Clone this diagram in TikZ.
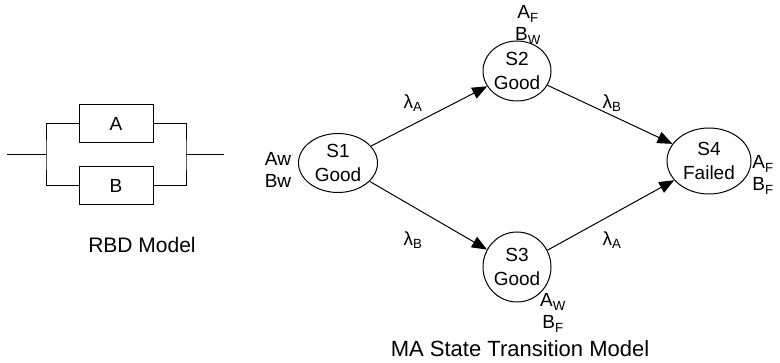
\documentclass[tikz,border=0pt]{standalone}
\usepackage{fontspec}
\setmainfont{Liberation Sans}
\usetikzlibrary{shapes.geometric,arrows.meta}
\begin{document}
\begin{tikzpicture}[x=1pt,y=-1pt,
  every node/.style={font=\fontsize{19}{22}\selectfont, inner sep=0pt},
  state/.style={draw, ellipse, line width=1pt, align=center, font=\fontsize{19}{24}\selectfont},
  blk/.style={draw, line width=1pt, minimum width=74pt, minimum height=38pt},
  wire/.style={line width=1pt},
  trans/.style={line width=1pt, -{Triangle[length=15pt,width=12pt]}},
  lbl/.style={align=center},
  caption/.style={font=\fontsize{21}{24}\selectfont}]
\useasboundingbox (0,0) rectangle (780,363);
% RBD
\node[blk] (a) at (116,124) {A};
\node[blk] (b) at (116,186) {B};
\coordinate (l0) at (7,155);
\coordinate (lj) at (46,155);
\coordinate (rj) at (186,155);
\coordinate (r0) at (224,155);
\draw[wire] (l0) -- (lj);
\draw[wire] (a.west) -| (lj) |- (b.west);
\draw[wire] (a.east) -| (rj) |- (b.east);
\draw[wire] (rj) -- (r0);
\node[caption] (rbd) at (142,245) {RBD Model};
% states
\node[state, minimum width=79pt, minimum height=59pt] (s1) at (338,163) {S1\\Good};
\node[state, minimum width=68pt, minimum height=60pt] (s2) at (517,71) {S2\\Good};
\node[state, minimum width=68pt, minimum height=70pt] (s3) at (517,267) {S3\\Good};
\node[state, minimum width=84pt, minimum height=66pt] (s4) at (709,161) {S4\\Failed};
% transitions
\draw[trans] (s1) -- (s2);
\draw[trans] (s1) -- (s3);
\draw[trans] (s2) -- (s4);
\draw[trans] (s3) -- (s4);
\node (l1) at (413,103) {λ\textsubscript{A}};
\node (l2) at (413,240) {λ\textsubscript{B}};
\node (l3) at (612,103) {λ\textsubscript{B}};
\node (l4) at (612,240) {λ\textsubscript{A}};
% state labels
\node[lbl] (t1) at (278,170) {Aw\\Bw};
\node[lbl] (t2) at (528,25) {A\textsubscript{F}\\B\textsubscript{W}};
\node[lbl] (t3) at (553,313) {A\textsubscript{W}\\B\textsubscript{F}};
\node[lbl] (t4) at (763,175) {A\textsubscript{F}\\B\textsubscript{F}};
\node[caption, font=\fontsize{22}{26}\selectfont] (ma) at (520,349) {MA State Transition Model};
\end{tikzpicture}
\end{document}
